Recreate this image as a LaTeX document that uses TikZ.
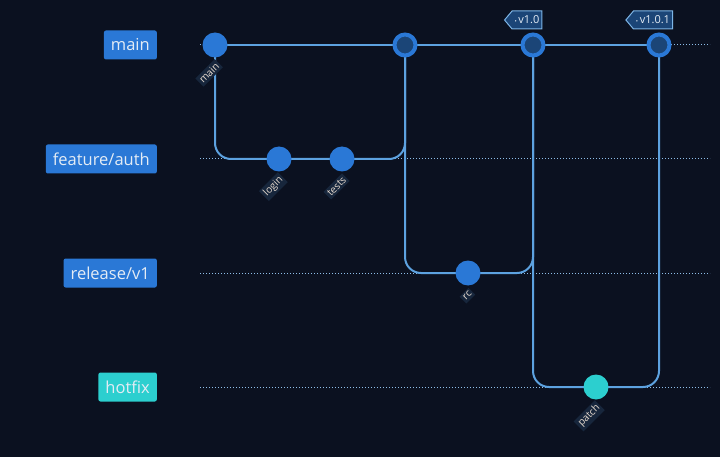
\documentclass[tikz,border=0pt]{standalone}
\usepackage{fontspec}
\setmainfont{Open Sans}
\usetikzlibrary{shapes.symbols}
\definecolor{bg}{HTML}{0B1120}
\definecolor{edgec}{HTML}{5DA2E0}
\definecolor{commitc}{HTML}{2A78D6}
\definecolor{mergec}{HTML}{1B4577}
\definecolor{hotc}{HTML}{2CCFCF}
\definecolor{labc}{HTML}{17263C}
\definecolor{txt}{HTML}{E4ECF5}
\tikzset{
  branch/.style={fill=commitc, rounded corners=2pt, text=txt, font=\fontsize{16.5}{19}\selectfont, inner xsep=7pt, minimum height=29pt, anchor=east},
  lane/.style={draw=edgec!70, dotted, line width=1pt},
  edge/.style={draw=edgec, line width=2pt, rounded corners=16pt},
  commit/.style={circle, fill=commitc, minimum size=25pt, inner sep=0pt},
  merge/.style={circle, fill=mergec, draw=commitc, line width=4pt, minimum size=21pt, inner sep=0pt},
  clabel/.style={rotate=45, anchor=east, fill=labc, text=txt!85!orange, font=\fontsize{10}{11}\selectfont, inner sep=2pt},
  tag/.style={signal, signal to=west, signal pointer angle=100, fill=mergec, draw=edgec!80!white, line width=1pt, text=txt, font=\fontsize{11}{12}\selectfont, inner sep=2.5pt, minimum height=18pt}
}
\begin{document}
\begin{tikzpicture}[x=1pt,y=-1pt]
\fill[bg] (0,0) rectangle (720,457);
\useasboundingbox (0,0) rectangle (720,457);

% lanes
\draw[lane] (200,45) -- (710,45);
\draw[lane] (200,159) -- (710,159);
\draw[lane] (200,273) -- (710,273);
\draw[lane] (200,387) -- (710,387);

% branch names
\node[branch] (bmain) at (157,45) {main};
\node[branch] (bfeat) at (157,159) {feature/auth};
\node[branch] (brel) at (157,273) {release/v1};
\node[branch, fill=hotc] (bhot) at (157,387) {hotfix};

% commits
\coordinate (m0) at (215,45);
\coordinate (login) at (279,159);
\coordinate (tests) at (342,159);
\coordinate (m1) at (405,45);
\coordinate (rc) at (468,273);
\coordinate (v10) at (533,45);
\coordinate (patch) at (596,387);
\coordinate (v101) at (659,45);

\draw[edge] (m0) -- (m1) -- (v10) -- (v101);
\draw[edge] (m0) |- (login) -- (tests) -| (m1);
\draw[edge] (m1) |- (rc) -| (v10);
\draw[edge] (v10) |- (patch) -| (v101);

\node[commit] (cm0) at (m0) {};
\node[commit] (clogin) at (login) {};
\node[commit] (ctests) at (tests) {};
\node[merge] (cm1) at (m1) {};
\node[commit] (crc) at (rc) {};
\node[merge] (cv10) at (v10) {};
\node[commit, fill=hotc] (cpatch) at (patch) {};
\node[merge] (cv101) at (v101) {};

% commit labels
\node[clabel] at (219,63) {main};
\node[clabel] at (283,177) {login};
\node[clabel] at (346,177) {tests};
\node[clabel] at (472,291) {rc};
\node[clabel] at (600,405) {patch};

% tags
\node[tag] (t10) at (527,20) {\fontsize{6}{6}\selectfont\textbullet\ \fontsize{11}{12}\selectfont v1.0};
\node[tag] (t101) at (653,20) {\fontsize{6}{6}\selectfont\textbullet\ \fontsize{11}{12}\selectfont v1.0.1};
\end{tikzpicture}
\end{document}
